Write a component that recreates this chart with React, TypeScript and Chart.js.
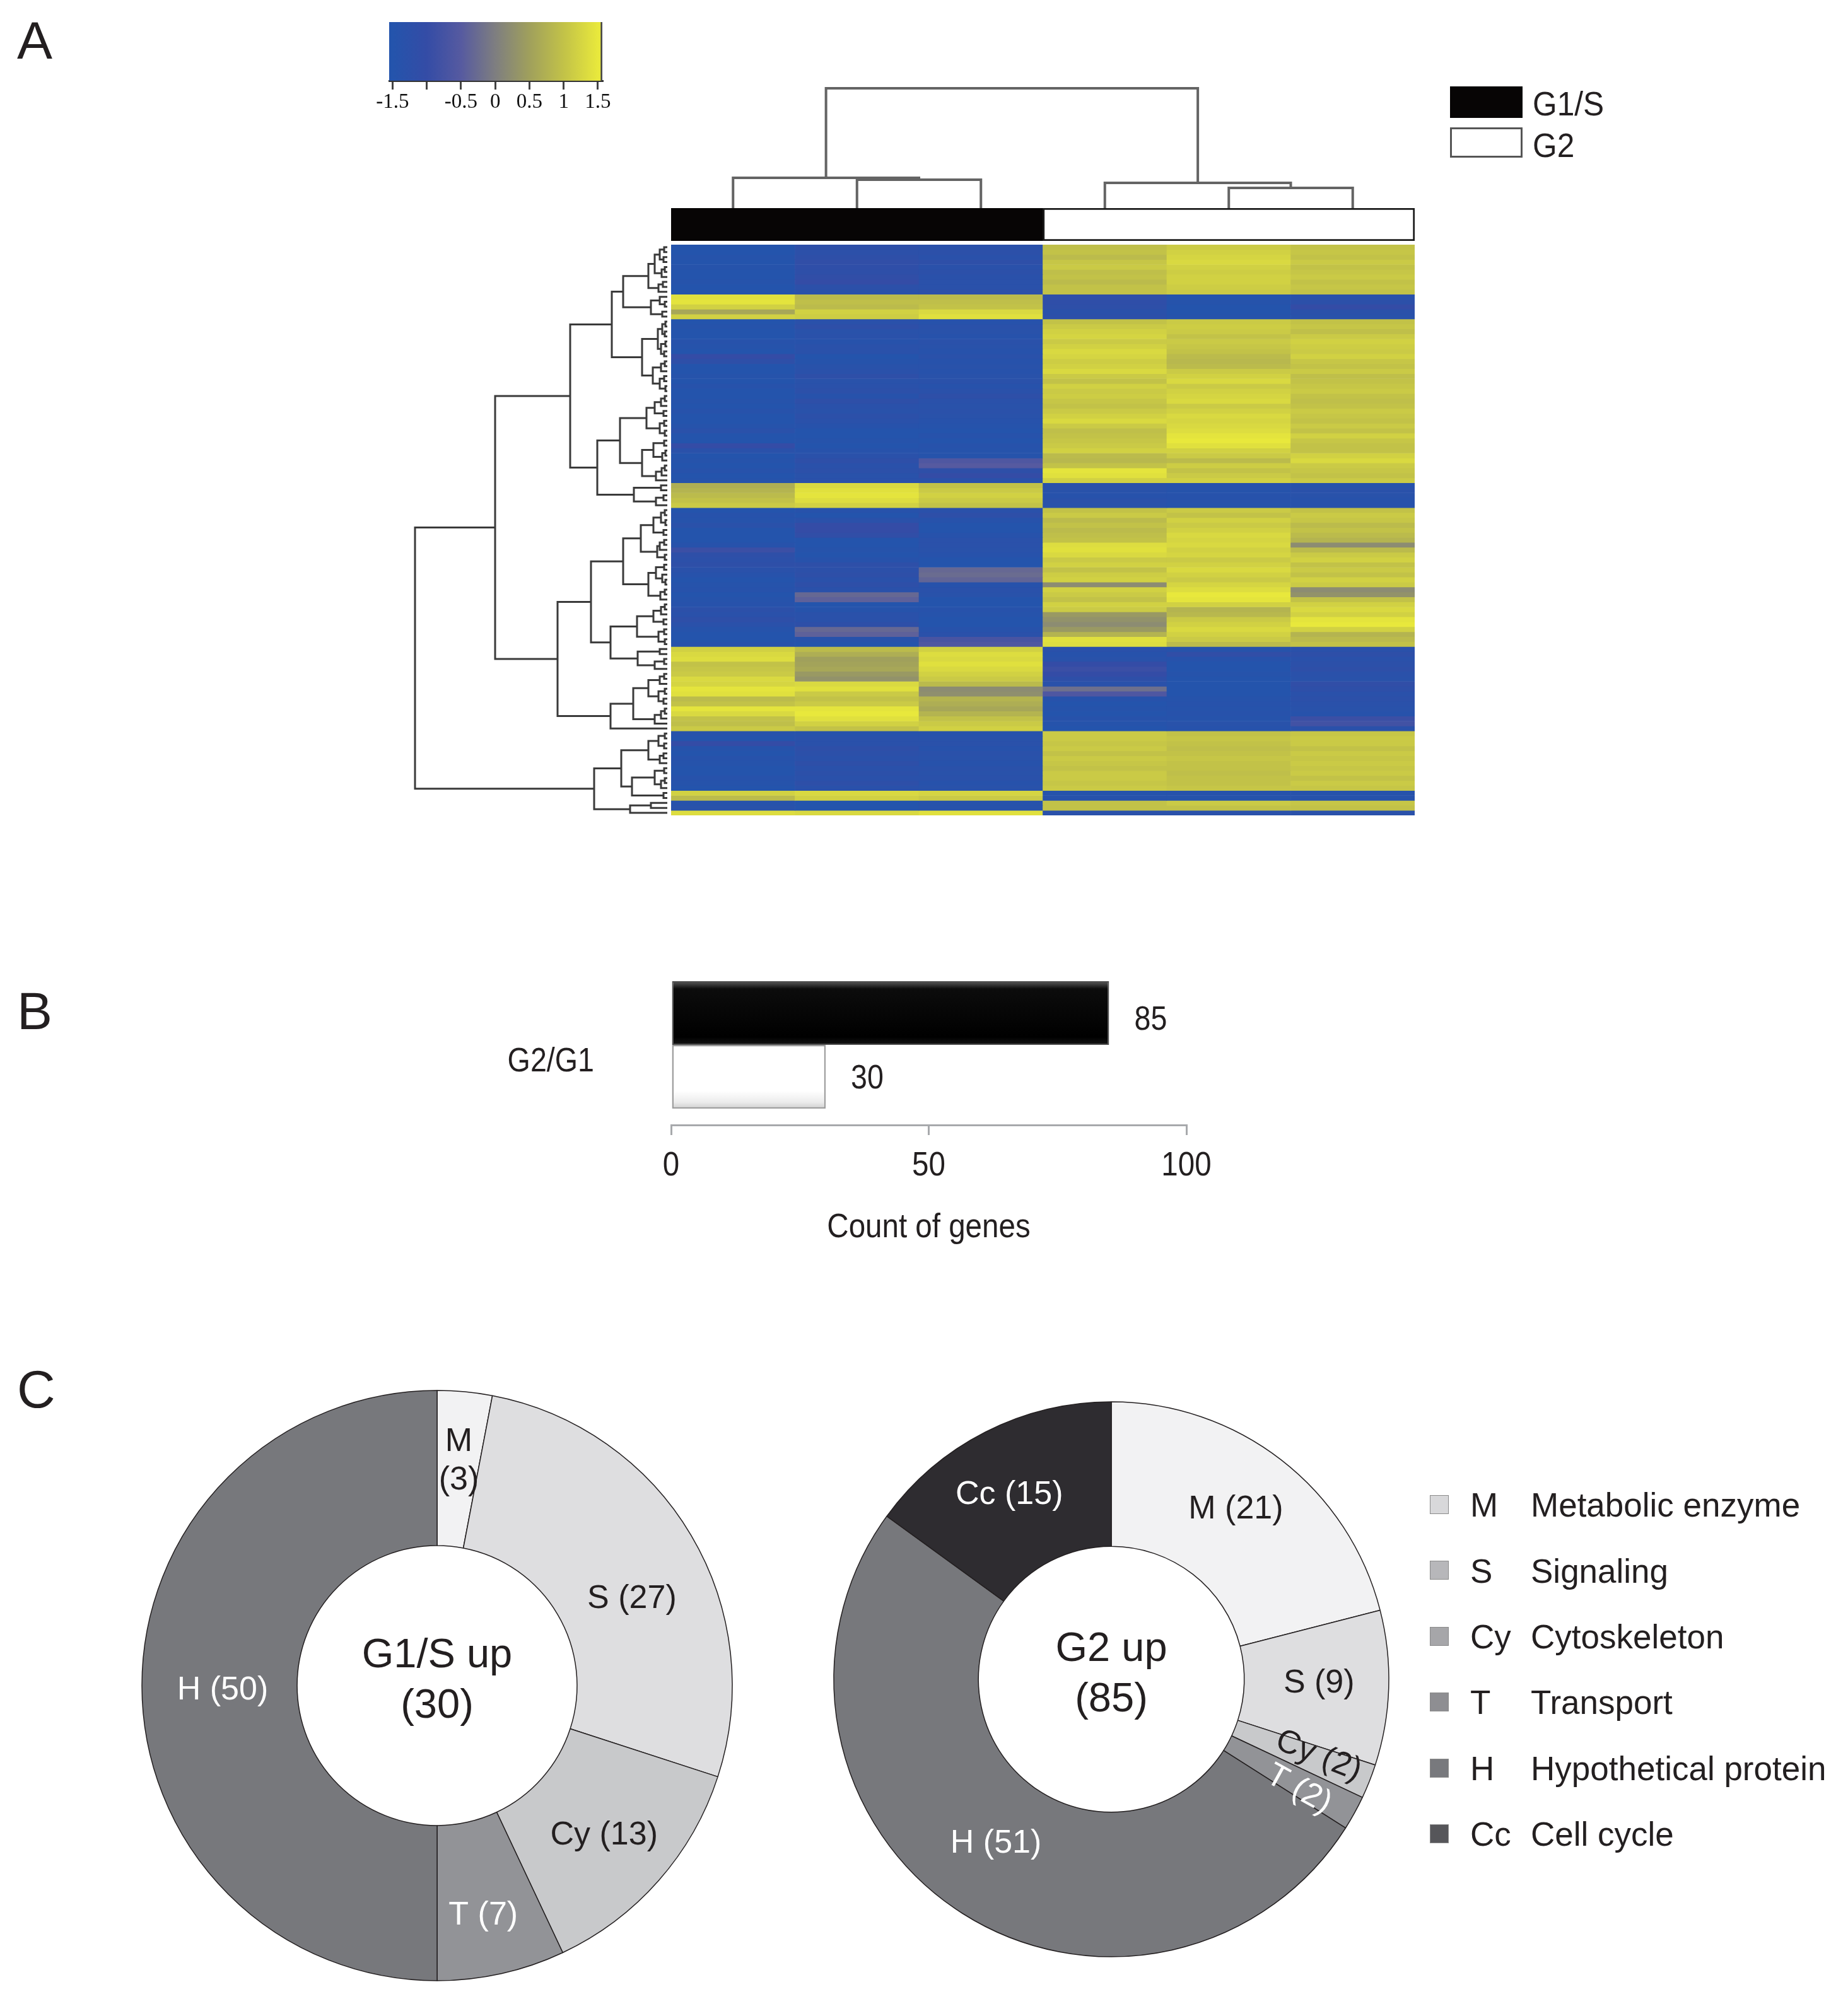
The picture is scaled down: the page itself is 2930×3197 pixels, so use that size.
import React, { useEffect, useRef } from "react";
import { Chart, registerables } from "chart.js";

Chart.register(...registerables);

const SANS = '"Liberation Sans", Arial, Helvetica, sans-serif';
const SERIF = '"Liberation Serif", "Times New Roman", serif';
const INK = "#231f20";
const NARROW_K = 0.88;

/* ============================ DATA ============================ */
// Panel A – heat map (z-scores), 115 genes x 6 samples
const sampleLabels = ["G1/S 1", "G1/S 2", "G1/S 3", "G2 1", "G2 2", "G2 3"];
const groupNames = ["G1/S", "G2"];
const groupSampleRanges: [number, number][] = [[0, 3], [3, 6]];
const keyTicks = [-1.5, -1, -0.5, 0, 0.5, 1, 1.5];
const keyTickLabels = ["-1.5", "", "-0.5", "0", "0.5", "1", "1.5"];

const G1S_1 = [
  -1.5, -1.5, -1.45, -1.5, -1.45, -1.5, -1.5, -1.45, -1.5, -1.5,
  1.4, 1.45, 1.2, 0.6, 1.2,
  -1.5, -1.45, -1.5, -1.5, -1.4, -1.45, -1.5, -1.0, -1.2, -1.5,
  -1.5, -1.45, -1.5, -1.4, -1.5, -1.5, -1.45, -1.5, -1.4, -1.5,
  -1.5, -1.45, -1.3, -1.5, -1.5, -1.0, -1.3, -1.5, -1.45, -1.5,
  -1.4, -1.5, -1.45,
  0.7, 0.8, 0.9, 1.0, 1.1,
  -1.5, -1.4, -1.45, -1.3, -1.5, -1.5, -1.5, -1.4, -0.9, -1.2,
  -1.25, -1.2, -1.3, -1.4, -1.5, -1.45, -1.4, -1.5, -1.45, -1.4,
  -1.25, -1.3, -1.2, -1.3, -1.45, -1.5, -1.5, -1.4,
  1.2, 1.3, 1.35, 1.0, 1.05, 1.1, 1.3, 1.25, 1.45, 1.4, 0.9, 1.0, 1.45, 1.3, 1.0, 0.95, 1.1,
  -1.4, -1.5, -1.0, -1.45, -1.5, -1.4, -1.45, -1.5, -1.5, -1.4, -1.45, -1.5,
  1.2, 0.9,
  -1.4, -1.35,
  1.35,
];
const G1S_2 = [
  -1.2, -1.25, -1.2, -1.1, -1.15, -1.2, -1.1, -1.0, -1.25, -1.3,
  0.9, 0.95, 0.9, 1.2, 1.15,
  -1.3, -1.2, -1.35, -1.3, -1.4, -1.3, -1.3, -1.5, -1.45, -1.35,
  -1.3, -1.2, -1.35, -1.3, -1.25, -1.4, -1.2, -1.3, -1.35, -1.25,
  -1.3, -1.4, -1.5, -1.5, -1.45, -1.5, -1.4, -1.3, -1.2, -1.3,
  -1.25, -1.35, -1.3,
  1.3, 1.4, 1.45, 1.35, 1.2,
  -1.4, -1.5, -1.3, -1.0, -1.0, -1.1, -1.5, -1.5, -1.45, -1.5,
  -1.4, -1.2, -1.25, -1.2, -1.3, -1.2, -1.3, -0.3, -0.4, -1.5,
  -1.45, -1.3, -1.3, -1.2, -0.3, -0.4, -1.4, -1.5,
  0.9, 0.7, 0.5, 0.55, 0.6, 0.4, 0.3, 1.3, 1.4, 1.1, 1.0, 1.1, 1.45, 1.5, 1.4, 1.2, 1.0,
  -1.4, -1.3, -1.3, -1.2, -1.25, -1.3, -1.2, -1.3, -1.25, -1.3, -1.2, -1.3,
  1.3, 1.2,
  -1.5, -1.5,
  1.3,
];
const G1S_3 = [
  -1.3, -1.25, -1.3, -1.2, -1.3, -1.25, -1.3, -1.3, -1.3, -1.25,
  0.9, 0.95, 1.0, 1.3, 1.4,
  -1.4, -1.3, -1.35, -1.4, -1.3, -1.35, -1.4, -1.3, -1.4, -1.35,
  -1.4, -1.35, -1.3, -1.4, -1.3, -1.2, -1.3, -1.35, -1.3, -1.35,
  -1.4, -1.45, -1.5, -1.4, -1.5, -1.4, -1.45, -1.45, -0.6, -0.5,
  -1.2, -1.0, -1.3,
  1.0, 1.1, 1.2, 1.1, 1.0,
  -1.3, -1.2, -1.4, -1.5, -1.5, -1.4, -1.3, -1.3, -1.35, -1.4,
  -1.5, -1.5, -0.3, -0.25, -0.35, -1.4, -1.3, -1.35, -1.5, -1.5,
  -1.4, -1.45, -1.5, -1.5, -1.4, -1.3, -0.7, -0.6,
  1.2, 1.35, 1.3, 1.4, 1.3, 1.2, 1.1, 0.9, 0.2, 0.25, 0.8, 0.7, 0.6, 0.8, 1.0, 1.1, 1.2,
  -1.4, -1.35, -1.3, -1.4, -1.3, -1.35, -1.4, -1.3, -1.35, -1.3, -1.4, -1.35,
  1.25, 1.1,
  -1.4, -1.4,
  1.4,
];
const G2_1 = [
  0.95, 1.0, 0.9, 1.05, 1.1, 0.95, 1.0, 0.9, 1.0, 1.0,
  -1.2, -1.15, -1.2, -1.3, -1.25,
  1.0, 1.1, 1.2, 1.25, 1.1, 1.2, 1.3, 1.25, 1.15, 1.2,
  1.3, 1.1, 1.0, 1.2, 1.1, 1.15, 1.05, 1.0, 1.1, 1.2,
  1.3, 1.1, 0.95, 1.0, 1.05, 1.1, 1.2, 0.9, 0.85, 1.0,
  1.45, 1.4, 1.2,
  -1.3, -1.35, -1.4, -1.3, -1.35,
  1.0, 1.1, 0.9, 1.0, 0.9, 0.95, 1.0, 1.35, 1.4, 1.3,
  1.1, 1.2, 1.0, 1.15, 1.2, 0.2, 1.2, 1.1, 1.0, 1.2,
  1.1, 0.4, 0.3, 0.2, 0.4, 0.8, 1.4, 1.35,
  -1.3, -1.4, -1.35, -1.0, -0.9, -1.0, -1.2, -1.3, -0.2, -0.6, -1.4, -1.5, -1.45, -1.5, -1.4, -1.45, -1.5,
  1.1, 1.1, 1.05, 1.1, 1.0, 1.1, 1.05, 1.0, 1.1, 1.1, 1.05, 1.1,
  -1.45, -1.4,
  1.0, 1.0,
  -1.3,
];
const G2_2 = [
  1.1, 1.2, 1.25, 1.3, 1.2, 1.15, 1.2, 1.2, 1.15, 1.1,
  -1.5, -1.45, -1.5, -1.5, -1.45,
  1.1, 1.15, 1.1, 1.0, 1.1, 1.05, 1.0, 0.9, 0.85, 0.9,
  1.1, 1.2, 1.3, 1.1, 1.2, 1.25, 1.3, 1.1, 1.2, 1.3,
  1.25, 1.3, 1.35, 1.45, 1.5, 1.4, 1.2, 1.1, 0.9, 1.15,
  1.0, 1.1, 1.2,
  -1.4, -1.45, -1.4, -1.4, -1.45,
  1.1, 1.0, 1.2, 1.1, 1.2, 1.3, 1.25, 1.3, 1.2, 1.25,
  1.1, 1.2, 1.3, 1.2, 1.1, 1.25, 1.35, 1.5, 1.45, 1.2,
  0.8, 0.85, 1.1, 1.2, 1.3, 1.2, 1.1, 0.9,
  -1.45, -1.1, -1.4, -1.5, -1.5, -1.45, -1.5, -1.5, -1.5, -1.5, -1.45, -1.4, -1.45, -1.4, -1.45, -1.35, -1.4,
  1.0, 1.05, 1.0, 0.95, 1.0, 1.05, 1.0, 1.0, 0.95, 1.0, 1.0, 1.05,
  -1.4, -1.45,
  1.1, 1.0,
  -1.3,
];
const G2_3 = [
  1.0, 1.05, 1.0, 1.1, 1.0, 1.05, 1.1, 1.0, 1.05, 1.0,
  -1.3, -1.25, -1.0, -1.3, -1.35,
  1.0, 1.05, 0.95, 1.1, 1.2, 1.15, 1.1, 1.2, 1.05, 1.0,
  1.1, 0.95, 1.0, 1.05, 1.1, 1.0, 0.95, 1.0, 1.1, 1.05,
  1.0, 1.1, 1.0, 1.2, 1.05, 1.0, 1.0, 1.2, 1.3, 1.1,
  1.05, 1.0, 1.1,
  -1.4, -1.3, -1.35, -1.4, -1.4,
  1.0, 1.1, 1.05, 0.9, 1.0, 0.9, 0.8, 0.2, 0.9, 1.1,
  1.2, 1.0, 1.1, 1.0, 1.2, 1.1, 0.2, 0.3, 1.0, 1.2,
  1.3, 1.2, 1.45, 1.5, 1.2, 0.8, 0.9, 1.0,
  -1.3, -1.2, -1.3, -1.25, -1.2, -1.3, -1.35, -1.1, -1.2, -1.3, -1.25, -1.3, -1.35, -1.4, -0.9, -0.8, -1.3,
  1.05, 1.1, 1.1, 1.0, 1.1, 1.05, 1.1, 1.05, 1.1, 1.0, 1.1, 1.05,
  -1.4, -1.4,
  1.05, 1.0,
  -1.3,
];

// Row dendrogram (gene clustering), Newick-like: x = gene leaf, ":h" = merge height
const rowB1 = "((((x,x):5,(x,x):6):12,((x,x):4,x):9):20,((x,x):7,x):14):30";
const rowB2 = "((x,(x,x):4):12,(x,x):8):26";
const rowCLU = "(((x,x):3,(x,x):4):8,((x,x):3,(x,x):5):10):15";
const rowCLL = "(((x,x):4,x):10,((x,x):5,(x,x):3):12):23";
const rowFU = "((((x,x):4,x):10,(x,x):6):20,((x,x):5,(x,x):4):12):33";
const rowFL = "(((x,x):5,((x,x):3,x):8):22,(((x,x):4,x):9,x):18):40";
const rowB4 = "((x,x):10,((x,x):6,x):18):53";
const rowIU = "((((x,x):4,(x,x):3):10,(x,x):6):22,(((x,x):5,x):12,(x,x):4):16):42";
const rowIL = "(((x,x):5,(x,(x,x):3):8):18,((x,x):4,x):11):30";
const rowJU = "((((x,x):4,x):10,(x,x):6):22,((x,x):5,(x,x):4):14):48";
const rowJL = "((x,x):12,((x,x):5,x):20):47";
const rowKU = "((((x,x):5,x):12,((x,x):4,(x,x):6):14):30,(((x,x):4,x):10,x):20):54";
const rowMU = "(((x,x):4,(x,x):5):14,((x,x):6,x):12):30";
const rowMLU = "((x,x):5,((x,x):4,x):10):20";
const rowLL = "((x,x):26,x):59";
const rowC = `((${rowB1},${rowB2}):70,(${rowCLU},${rowCLL}):40):88`;
const rowE = `((${rowFU},${rowFL}):75,${rowB4}):111`;
const rowG = `(((${rowIU},${rowIL}):70,(${rowJU},${rowJL}):90):121,(${rowKU},x):90):174`;
const rowL = `((${rowMU},(${rowMLU},(x,x):6):56):73,${rowLL}):116`;
const rowTree = `(((${rowC},${rowE}):154,${rowG}):273,${rowL}):400`;

// Column dendrogram (sample clustering)
const colTree = "((x,(x,x):45):48,(x,(x,x):32):40):190";

// Panel B
const barCategory = ["G2/G1"];
const g2UpCount = [85];
const g1sUpCount = [30];
const barTicks = [0, 50, 100];
const barAxisTitle = "Count of genes";

// Panel C
const categoryCodes = ["M", "S", "Cy", "T", "H", "Cc"];
const categoryNames = ["Metabolic enzyme", "Signaling", "Cytoskeleton", "Transport", "Hypothetical protein", "Cell cycle"];
const g1sUpShares = [3, 27, 13, 7, 50];
const g2UpShares = [21, 9, 2, 2, 51, 15];

/* ============================ STYLE ============================ */
const HEAT_STOPS: [number, number[]][] = [
  [-1.5, [36, 84, 172]],
  [-1.0, [52, 76, 166]],
  [-0.5, [86, 90, 160]],
  [0, [126, 126, 128]],
  [0.5, [160, 160, 92]],
  [1.0, [194, 194, 72]],
  [1.5, [232, 232, 60]],
];
const SEG_COLORS = ["#f2f2f3", "#dedee0", "#c8c9cb", "#929397", "#77787c", "#2e2c30"];
const LEGEND_SWATCH = ["#d8d8da", "#b7b7ba", "#a6a6a9", "#8e8e92", "#78797d", "#56565a"];
const LIGHT_TEXT = [3, 4, 5];
const VALUE_LABEL_DY = [12, 4];

function rgb(c: number[]) {
  return `rgb(${Math.round(c[0])},${Math.round(c[1])},${Math.round(c[2])})`;
}
function heatColor(v: number) {
  const x = Math.max(-1.5, Math.min(1.5, v ?? 0));
  for (let i = 0; i < HEAT_STOPS.length - 1; i++) {
    const [a, ca] = HEAT_STOPS[i];
    const [b, cb] = HEAT_STOPS[i + 1];
    if (x >= a && x <= b) {
      const t = (x - a) / (b - a);
      return rgb([0, 1, 2].map((k) => ca[k] + (cb[k] - ca[k]) * t));
    }
  }
  return rgb(HEAT_STOPS[HEAT_STOPS.length - 1][1]);
}

/* ============================ HELPERS ============================ */
type TNode = { h: number; kids: TNode[]; leaf?: boolean };
function parseTree(src: string): TNode {
  const s = src.replace(/\s+/g, "");
  let i = 0;
  const node = (): TNode => {
    if (s[i] === "x") {
      i++;
      return { h: 0, kids: [], leaf: true };
    }
    i++; // (
    const kids: TNode[] = [node()];
    while (s[i] === ",") {
      i++;
      kids.push(node());
    }
    i++; // )
    let h = 0;
    if (s[i] === ":") {
      i++;
      const j = i;
      while (i < s.length && /[0-9.]/.test(s[i])) i++;
      h = parseFloat(s.slice(j, i));
    }
    return { h, kids };
  };
  return node();
}
function dendroPath(root: TNode, orient: "row" | "col") {
  const pts: any[] = [];
  let leaf = 0;
  const pt = (h: number, p: number) => (orient === "row" ? { x: h, y: p } : { x: p, y: h });
  const walk = (n: TNode): number => {
    if (n.leaf) return leaf++ + 0.5;
    const pos = n.kids.map(walk);
    const a = pos[0];
    const b = pos[pos.length - 1];
    pts.push(pt(n.kids[0].h, a), pt(n.h, a), pt(n.h, b), pt(n.kids[n.kids.length - 1].h, b), { x: null, y: null });
    return (a + b) / 2;
  };
  walk(root);
  return pts;
}

const heatColumns = [G1S_1, G1S_2, G1S_3, G2_1, G2_2, G2_3];
const nRows = G1S_1.length;

const common = {
  responsive: false,
  maintainAspectRatio: false,
  animation: false,
  devicePixelRatio: 1,
  events: [] as string[],
};
const noPlugins = { legend: { display: false }, tooltip: { enabled: false } };

function narrowText(c: CanvasRenderingContext2D, text: string, x: number, y: number, size: number, align: CanvasTextAlign) {
  c.save();
  c.font = `${size}px ${SANS}`;
  c.fillStyle = INK;
  c.textBaseline = "middle";
  c.textAlign = align;
  c.translate(x, y);
  c.scale(NARROW_K, 1);
  c.fillText(text, 0, 0);
  c.restore();
}

/* ============================ CHART CONFIGS ============================ */
function makeColorKey() {
  return {
    type: "bar",
    data: {
      labels: ["key"],
      datasets: [
        {
          data: [[-1.55, 1.565]],
          backgroundColor: (ctx: any) => {
            const ch = ctx.chart;
            if (!ch.chartArea || !ch.scales.x) return "#888";
            const xs = ch.scales.x;
            const g = ch.ctx.createLinearGradient(xs.getPixelForValue(-1.5), 0, xs.getPixelForValue(1.5), 0);
            HEAT_STOPS.forEach(([v, c]) => g.addColorStop((v + 1.5) / 3, rgb(c)));
            return g;
          },
          borderColor: "#4a4a4a",
          borderWidth: { top: 0, left: 0, bottom: 0, right: 3 },
          borderSkipped: false,
          barPercentage: 1,
          categoryPercentage: 1,
        },
      ],
    },
    options: {
      ...common,
      indexAxis: "y",
      layout: { autoPadding: false, padding: { left: 37, right: 45, top: 15, bottom: 0 } },
      plugins: noPlugins,
      scales: {
        y: { display: false },
        x: {
          type: "linear",
          min: -1.55,
          max: 1.565,
          afterFit: (s: any) => {
            s.height = 62;
          },
          afterBuildTicks: (s: any) => {
            s.ticks = keyTicks.map((v) => ({ value: v }));
          },
          ticks: {
            autoSkip: false,
            maxRotation: 0,
            padding: 1,
            color: "#111",
            font: { family: SERIF, size: 33 },
            callback: (_v: any, i: number) => keyTickLabels[i],
          },
          grid: { drawOnChartArea: false, drawTicks: true, tickLength: 14, color: "#444", lineWidth: 3 },
          border: { display: true, color: "#333", width: 3 },
        },
      },
    },
  };
}

function makeColDendro() {
  return {
    type: "scatter",
    data: {
      datasets: [
        {
          data: dendroPath(parseTree(colTree), "col"),
          showLine: true,
          borderColor: "#646464",
          borderWidth: 4,
          pointRadius: 0,
          spanGaps: false,
          borderJoinStyle: "miter",
        },
      ],
    },
    options: {
      ...common,
      layout: { autoPadding: false, padding: 0 },
      plugins: noPlugins,
      scales: {
        x: { type: "linear", display: false, min: 0, max: sampleLabels.length },
        y: { type: "linear", display: false, min: 0, max: 200 },
      },
    },
  };
}

function makeGroupStrip() {
  return {
    type: "bar",
    data: {
      labels: ["group"],
      datasets: groupNames.map((g, i) => ({
        label: g,
        data: [groupSampleRanges[i]],
        backgroundColor: i === 0 ? "#070505" : "#ffffff",
        borderColor: i === 0 ? "#070505" : "#1a1a1a",
        borderWidth: i === 0 ? 0 : 3,
        borderSkipped: false,
        barPercentage: 1,
        categoryPercentage: 1,
        grouped: false,
      })),
    },
    options: {
      ...common,
      indexAxis: "y",
      layout: { autoPadding: false, padding: 0 },
      plugins: noPlugins,
      scales: {
        x: { type: "linear", display: false, min: 0, max: sampleLabels.length },
        y: { display: false },
      },
    },
  };
}

function makeHeatmap() {
  return {
    type: "bar",
    data: {
      labels: sampleLabels,
      datasets: G1S_1.map((_, r) => ({
        label: `gene ${r + 1}`,
        data: heatColumns.map(() => 1),
        backgroundColor: heatColumns.map((col) => heatColor(col[r])),
        borderWidth: 0,
        barPercentage: 1,
        categoryPercentage: 1,
      })),
    },
    options: {
      ...common,
      layout: { autoPadding: false, padding: 0 },
      plugins: noPlugins,
      scales: {
        x: { display: false, stacked: true },
        y: { display: false, stacked: true, min: 0, max: nRows, reverse: true },
      },
    },
  };
}

function makeRowDendro() {
  return {
    type: "scatter",
    data: {
      datasets: [
        {
          data: dendroPath(parseTree(rowTree), "row"),
          showLine: true,
          borderColor: "#3a3a3a",
          borderWidth: 3,
          pointRadius: 0,
          spanGaps: false,
          borderJoinStyle: "miter",
        },
      ],
    },
    options: {
      ...common,
      layout: { autoPadding: false, padding: 0 },
      plugins: noPlugins,
      scales: {
        x: { type: "linear", display: false, min: 0, max: 418, reverse: true },
        y: { type: "linear", display: false, min: 0, max: nRows, reverse: true },
      },
    },
  };
}

const BAR_CAT = 0.795;
const barTexts = {
  id: "barTexts",
  afterDraw(chart: any) {
    const c = chart.ctx as CanvasRenderingContext2D;
    const xs = chart.scales.x;
    const ys = chart.scales.y;
    // value labels at bar ends
    chart.data.datasets.forEach((ds: any, i: number) => {
      chart.getDatasetMeta(i).data.forEach((el: any, j: number) => {
        narrowText(c, String(ds.data[j]), el.x + 40, el.y + VALUE_LABEL_DY[i], 53, "left");
      });
    });
    // x tick labels
    barTicks.forEach((v) => narrowText(c, String(v), xs.getPixelForValue(v), xs.top + 65, 54, "center"));
    // axis title
    narrowText(c, barAxisTitle, (xs.left + xs.right) / 2, xs.top + 163, 54, "center");
    // category label
    barCategory.forEach((lab, i) => narrowText(c, lab, ys.right - 122, ys.getPixelForValue(i) + 27, 53, "right"));
  },
};

function makeBars() {
  return {
    type: "bar",
    data: {
      labels: barCategory,
      datasets: [
        {
          label: "G2 up",
          data: g2UpCount,
          backgroundColor: (ctx: any) => {
            const a = ctx.chart.chartArea;
            if (!a) return "#000";
            const mid = (a.top + a.bottom) / 2;
            const half = ((a.bottom - a.top) * BAR_CAT) / 2;
            const g = ctx.chart.ctx.createLinearGradient(0, mid - half, 0, mid);
            g.addColorStop(0, "#5a5a5a");
            g.addColorStop(0.12, "#0c0c0c");
            g.addColorStop(0.88, "#000000");
            g.addColorStop(1, "#161616");
            return g;
          },
          borderColor: "#4d4d4d",
          borderWidth: 2,
          borderSkipped: false,
        },
        {
          label: "G1/S up",
          data: g1sUpCount,
          backgroundColor: (ctx: any) => {
            const a = ctx.chart.chartArea;
            if (!a) return "#fff";
            const mid = (a.top + a.bottom) / 2;
            const half = ((a.bottom - a.top) * BAR_CAT) / 2;
            const g = ctx.chart.ctx.createLinearGradient(0, mid, 0, mid + half);
            g.addColorStop(0, "#ffffff");
            g.addColorStop(0.72, "#ffffff");
            g.addColorStop(0.9, "#ececec");
            g.addColorStop(1, "#cfcfcf");
            return g;
          },
          borderColor: "#9d9d9d",
          borderWidth: 2.5,
          borderSkipped: false,
        },
      ],
    },
    options: {
      ...common,
      indexAxis: "y",
      layout: { autoPadding: false, padding: { top: 30, right: 79, left: 0, bottom: 0 } },
      plugins: noPlugins,
      datasets: { bar: { barPercentage: 1, categoryPercentage: BAR_CAT } },
      scales: {
        x: {
          type: "linear",
          min: 0,
          max: 100,
          afterFit: (s: any) => {
            s.height = 216;
            s.paddingLeft = 0;
            s.paddingRight = 0;
          },
          afterBuildTicks: (s: any) => {
            s.ticks = barTicks.map((v) => ({ value: v }));
          },
          ticks: { display: false },
          grid: { drawOnChartArea: false, drawTicks: true, tickLength: 16, color: "#a7a9ac", lineWidth: 3 },
          border: { display: true, color: "#a7a9ac", width: 3 },
          title: { display: false },
        },
        y: {
          type: "category",
          afterFit: (s: any) => {
            s.width = 304;
            s.paddingTop = 0;
            s.paddingBottom = 0;
          },
          ticks: { display: false },
          grid: { display: false, drawTicks: false },
          border: { display: false },
        },
      },
    },
    plugins: [barTexts],
  };
}

function donutText(center: string[], stacked: number[], rotated: number[], nudges: Record<number, [number, number]>) {
  return {
    id: "donutText",
    afterDatasetsDraw(chart: any) {
      const c = chart.ctx;
      const meta = chart.getDatasetMeta(0);
      const ds = chart.data.datasets[0];
      c.save();
      c.textAlign = "center";
      c.textBaseline = "middle";
      c.font = `52px ${SANS}`;
      meta.data.forEach((arc: any, i: number) => {
        const p = arc.getCenterPoint();
        const mid = (arc.startAngle + arc.endAngle) / 2;
        const [dx, dy] = nudges[i] || [0, 0];
        const code = chart.data.labels[i];
        const v = ds.data[i];
        c.fillStyle = LIGHT_TEXT.includes(i) ? "#ffffff" : INK;
        c.save();
        c.translate(p.x + dx, p.y + dy);
        if (rotated.includes(i)) c.rotate(mid);
        if (stacked.includes(i)) {
          c.fillText(code, 0, -31);
          c.fillText(`(${v})`, 0, 30);
        } else {
          c.fillText(`${code} (${v})`, 0, 0);
        }
        c.restore();
      });
      const cx = meta.data[0].x;
      const cy = meta.data[0].y;
      c.fillStyle = INK;
      c.font = `65px ${SANS}`;
      c.fillText(center[0], cx, cy - 47);
      c.fillText(center[1], cx, cy + 33);
      c.restore();
    },
  };
}

function makeDonutLeft() {
  return {
    type: "doughnut",
    data: {
      labels: categoryCodes.slice(0, g1sUpShares.length),
      datasets: [
        {
          data: g1sUpShares,
          backgroundColor: SEG_COLORS.slice(0, g1sUpShares.length),
          borderColor: INK,
          borderWidth: 1.5,
        },
      ],
    },
    options: { ...common, radius: 468, cutout: 232, layout: { autoPadding: false, padding: 0 }, plugins: noPlugins },
    plugins: [donutText(["G1/S up", `(${g1sUpCount[0]})`], [0], [], { 0: [2, -12], 1: [12, 38], 2: [6, 10], 4: [5, 8], 3: [-2, 28] })],
  };
}

function makeDonutRight() {
  return {
    type: "doughnut",
    data: {
      labels: categoryCodes.slice(0, g2UpShares.length),
      datasets: [
        {
          data: g2UpShares,
          backgroundColor: SEG_COLORS.slice(0, g2UpShares.length),
          borderColor: INK,
          borderWidth: 1.5,
        },
      ],
    },
    options: { ...common, radius: 440, cutout: 220, layout: { autoPadding: false, padding: 0 }, plugins: noPlugins },
    plugins: [donutText(["G2 up", `(${g2UpCount[0]})`], [], [2, 3], { 0: [-2, -12], 1: [4, -4], 2: [26, 2], 3: [12, 18], 4: [0, -8], 5: [-14, -2] })],
  };
}

/* ============================ COMPONENTS ============================ */
function ChartCanvas({ x, y, w, h, make }: { x: number; y: number; w: number; h: number; make: () => any }) {
  const ref = useRef<HTMLCanvasElement | null>(null);
  useEffect(() => {
    if (!ref.current) return;
    const chart = new Chart(ref.current, make());
    return () => chart.destroy();
  }, [make]);
  return (
    <canvas
      ref={ref}
      width={w}
      height={h}
      style={{ position: "absolute", left: x, top: y, width: w, height: h, display: "block" }}
    />
  );
}

function Txt({
  x,
  y,
  size,
  family = SANS,
  color = INK,
  squeeze = 1,
  children,
}: {
  x: number;
  y: number;
  size: number;
  family?: string;
  color?: string;
  squeeze?: number;
  children: React.ReactNode;
}) {
  return (
    <div
      style={{
        position: "absolute",
        left: x,
        top: y - size * 0.8465,
        fontFamily: family,
        fontSize: size,
        lineHeight: `${size}px`,
        color,
        whiteSpace: "nowrap",
        transform: squeeze !== 1 ? `scaleX(${squeeze})` : undefined,
        transformOrigin: "left center",
      }}
    >
      {children}
    </div>
  );
}

export default function App() {
  const legendRowY = (i: number) => 2386 + i * 104.4;
  return (
    <div
      style={{
        position: "absolute",
        left: 0,
        top: 0,
        width: 2930,
        height: 3197,
        background: "#ffffff",
        overflow: "hidden",
      }}
    >
      {/* Panel letters */}
      <Txt x={27} y={93} size={84}>A</Txt>
      <Txt x={27} y={1632} size={84}>B</Txt>
      <Txt x={27} y={2232} size={84}>C</Txt>

      {/* Panel A */}
      <ChartCanvas x={580} y={20} w={420} h={170} make={makeColorKey} />
      <ChartCanvas x={1064} y={130} w={1179} h={200} make={makeColDendro} />
      <ChartCanvas x={1064} y={330} w={1179} h={52} make={makeGroupStrip} />
      <ChartCanvas x={1064} y={388} w={1179} h={905} make={makeHeatmap} />
      <ChartCanvas x={640} y={388} w={418} h={905} make={makeRowDendro} />

      {/* Group legend */}
      <div style={{ position: "absolute", left: 2299, top: 137, width: 115, height: 50, background: "#070505" }} />
      <div
        style={{
          position: "absolute",
          left: 2299,
          top: 202,
          width: 115,
          height: 48,
          background: "#fff",
          border: "3px solid #555",
          boxSizing: "border-box",
        }}
      />
      <Txt x={2430} y={183} size={54} squeeze={0.92}>{groupNames[0]}</Txt>
      <Txt x={2430} y={249} size={54} squeeze={0.92}>{groupNames[1]}</Txt>

      {/* Panel B */}
      <ChartCanvas x={760} y={1500} w={1200} h={500} make={makeBars} />

      {/* Panel C */}
      <ChartCanvas x={203} y={2183} w={980} h={980} make={makeDonutLeft} />
      <ChartCanvas x={1302} y={2203} w={920} h={920} make={makeDonutRight} />

      {categoryCodes.map((code, i) => (
        <React.Fragment key={code}>
          <div
            style={{
              position: "absolute",
              left: 2267,
              top: legendRowY(i) - 15,
              width: 30,
              height: 30,
              background: LEGEND_SWATCH[i],
              border: "1px solid #8a8a8a",
              boxSizing: "border-box",
            }}
          />
          <Txt x={2331} y={legendRowY(i) + 19} size={53}>{code}</Txt>
          <Txt x={2427} y={legendRowY(i) + 19} size={53}>{categoryNames[i]}</Txt>
        </React.Fragment>
      ))}
    </div>
  );
}
